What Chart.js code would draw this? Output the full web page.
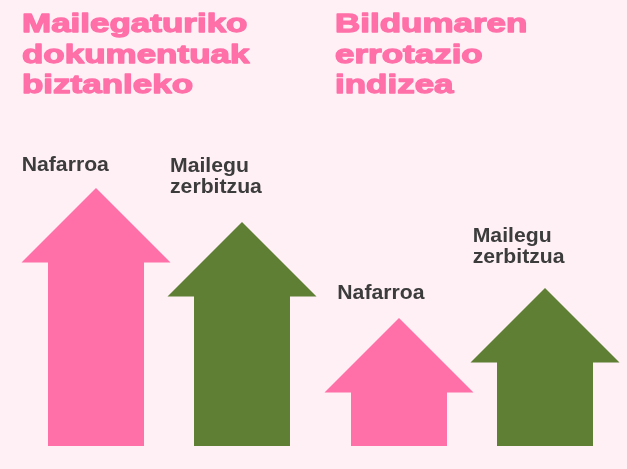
<!DOCTYPE html>
<html><head><meta charset="utf-8">
<script src="https://cdn.jsdelivr.net/npm/chart.js@4.4.1/dist/chart.umd.min.js"></script>
<style>html,body{margin:0;padding:0;background:#fff0f5;}#wrap{width:627px;height:469px;position:relative;}</style>
</head><body><div id="wrap"><canvas id="c"></canvas></div>
<script>
// ---- data ----
const metricTitles = [['Mailegaturiko', 'dokumentuak', 'biztanleko'], ['Bildumaren', 'errotazio', 'indizea']];
const seriesNames = ['Nafarroa', 'Mailegu zerbitzua'];
const seriesLines = [['Nafarroa'], ['Mailegu', 'zerbitzua']];
const nafarroaValues = [258, 128];
const maileguValues = [224, 158];
const yMax = 446;

// ---- style ----
const PINK = '#ff6fa8', GREEN = '#5f7f35', BG = '#fff0f5', TEXT = '#3c3c3c';
const FONT = "'Liberation Sans', Arial, sans-serif";
const HEAD_H = 74.5, HEAD_OVER = 26.5;
const TITLE_DX = [0.5, 10.5], TITLE_BASE = [31.7, 62.5, 93.3], TITLE_SIZE = 26.5, TITLE_STRETCH = 1.32;
const LABEL_SIZE = 20, LABEL_STRETCH = 1.06, LABEL_LH = 21;
const LABEL_DX = [[0.2, 12.8], [2.5, 2.2]];     // [dataset][index]
const LABEL_GAP = [[16.7, 19], [29, 25]];

function stretchText(ctx, text, x, y, sx, strokeW) {
  ctx.save(); ctx.translate(x, y); ctx.scale(sx, 1);
  if (strokeW) { ctx.lineWidth = strokeW; ctx.lineJoin = 'round'; ctx.strokeText(text, 0, 0); }
  ctx.fillText(text, 0, 0); ctx.restore();
}

const arrowPlugin = {
  id: 'arrows',
  beforeDraw(chart) {
    const ctx = chart.ctx;
    ctx.save(); ctx.fillStyle = BG; ctx.fillRect(0, 0, chart.width, chart.height); ctx.restore();
  },
  afterDatasetsDraw(chart) {
    const ctx = chart.ctx;
    chart.data.datasets.forEach((ds, di) => {
      const meta = chart.getDatasetMeta(di);
      meta.data.forEach((bar, i) => {
        const p = bar.getProps(['x', 'y', 'base', 'width'], true);
        const l = p.x - p.width / 2, r = p.x + p.width / 2, hy = p.y + HEAD_H;
        ctx.save();
        ctx.fillStyle = ds.arrowColor;
        ctx.beginPath();
        ctx.moveTo(l, p.base); ctx.lineTo(l, hy); ctx.lineTo(l - HEAD_OVER, hy);
        ctx.lineTo(p.x, p.y);
        ctx.lineTo(r + HEAD_OVER, hy); ctx.lineTo(r, hy); ctx.lineTo(r, p.base);
        ctx.closePath(); ctx.fill();
        ctx.restore();
        // series label above arrow
        const lines = seriesLines[di];
        ctx.save();
        ctx.fillStyle = TEXT; ctx.font = `bold ${LABEL_SIZE}px ${FONT}`;
        ctx.textBaseline = 'alphabetic'; ctx.textAlign = 'left';
        const lx = l - HEAD_OVER + LABEL_DX[di][i];
        const lastBase = p.y - LABEL_GAP[di][i];
        lines.forEach((t, k) => {
          stretchText(ctx, t, lx, lastBase - (lines.length - 1 - k) * LABEL_LH, LABEL_STRETCH, 0);
        });
        ctx.restore();
      });
    });
    // metric titles
    const meta0 = chart.getDatasetMeta(0);
    ctx.save();
    ctx.fillStyle = PINK; ctx.strokeStyle = PINK; ctx.font = `bold ${TITLE_SIZE}px ${FONT}`;
    ctx.textBaseline = 'alphabetic'; ctx.textAlign = 'left';
    metricTitles.forEach((lines, i) => {
      const bar = meta0.data[i].getProps(['x', 'width'], true);
      const tx = bar.x - bar.width / 2 - HEAD_OVER + TITLE_DX[i];
      lines.forEach((t, k) => stretchText(ctx, t, tx, TITLE_BASE[k], TITLE_STRETCH, 1.3));
    });
    ctx.restore();
  }
};

new Chart(document.getElementById('c'), {
  type: 'bar',
  data: {
    labels: metricTitles.map(t => t.join(' ')),
    datasets: [
      { label: seriesNames[0], data: nafarroaValues, arrowColor: PINK, backgroundColor: 'rgba(0,0,0,0)', borderWidth: 0 },
      { label: seriesNames[1], data: maileguValues, arrowColor: GREEN, backgroundColor: 'rgba(0,0,0,0)', borderWidth: 0 }
    ]
  },
  options: {
    responsive: true, maintainAspectRatio: false, animation: false,
    layout: { padding: { left: 17.5, right: 3.5, top: 0, bottom: 23 } },
    plugins: { legend: { display: false }, tooltip: { enabled: false } },
    datasets: { bar: { categoryPercentage: 292 / 303, barPercentage: 96 / 146 } },
    scales: {
      x: { display: false, offset: true },
      y: { display: false, min: 0, max: yMax }
    }
  },
  plugins: [arrowPlugin]
});
</script></body></html>
